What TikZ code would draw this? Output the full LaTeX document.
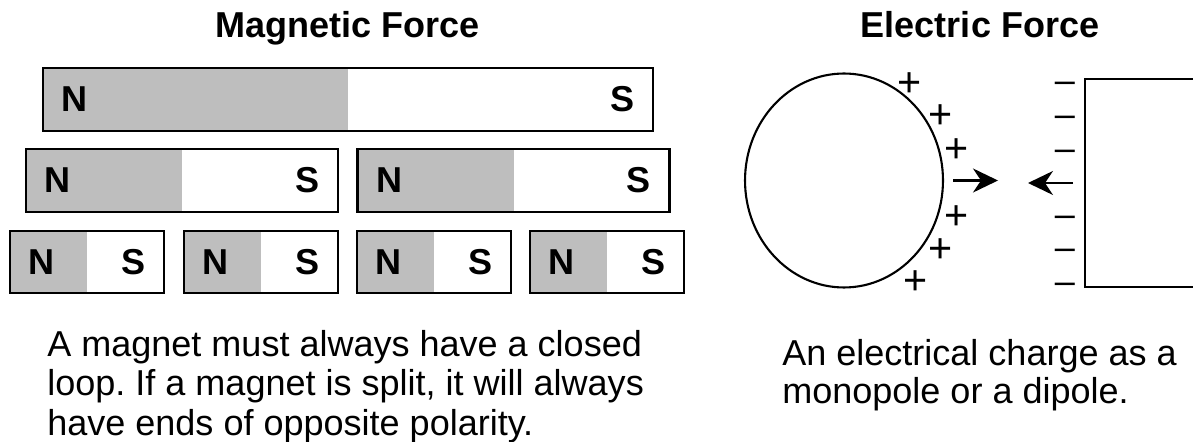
\documentclass[tikz,border=0pt]{standalone}
\usepackage{fontspec}
\setmainfont{Liberation Sans}
\usepackage{xcolor}
\usepackage{tikz}
\usetikzlibrary{arrows.meta,positioning,shapes.geometric}

\definecolor{poleshade}{RGB}{190,190,190}
\frenchspacing

\begin{document}
\begin{tikzpicture}[
  x=0.02cm, y=-0.02cm,
  magnet/.style={draw, line width=1.3pt, inner sep=0pt, minimum height=1.26cm,
                 path picture={\fill[poleshade] (path picture bounding box.south west)
                               rectangle (path picture bounding box.north);}},
  pole/.style={font=\bfseries\fontsize{20.5}{24}\selectfont, inner sep=0pt},
  heading/.style={font=\bfseries\fontsize{20.5}{24}\selectfont, inner sep=0pt, anchor=base},
  caption/.style={font=\fontsize{20.5}{22.8}\selectfont, align=left, inner sep=0pt,
                  anchor=north west},
  charge/.style={font=\fontsize{23.5}{26}\selectfont, inner sep=0pt, text depth=0pt},
  force/.style={-{Stealth[length=0.5cm, width=0.48cm, inset=0.16cm]}, line width=1.3pt}
]
\useasboundingbox (0,0) rectangle (1193,442);
\clip (0,0) rectangle (1193,442);

% magnetic side
\node[heading] (magtitle) at (347.5,38) {Magnetic Force};

\node[magnet, minimum width=12.2cm] (whole) at (348,99.5) {};
\node[pole] (wholen) at ([xshift=0.66cm]whole.west) {N};
\node[pole] (wholes) at ([xshift=-0.64cm]whole.east) {S};

\node[magnet, minimum width=6.24cm] (halfa) at (182,180.5) {};
\node[magnet, minimum width=6.24cm] (halfb) at (513.5,180.5) {};
\node[pole] (halfan) at ([xshift=0.66cm]halfa.west) {N};
\node[pole] (halfas) at ([xshift=-0.64cm]halfa.east) {S};
\node[pole] (halfbn) at ([xshift=0.66cm]halfb.west) {N};
\node[pole] (halfbs) at ([xshift=-0.64cm]halfb.east) {S};

\foreach \cx [count=\k] in {87,261,434,607} {
  \node[magnet, minimum width=3.08cm, minimum height=1.24cm] (quart\k) at (\cx,262) {};
  \node[pole] (quartn\k) at ([xshift=0.66cm]quart\k.west) {N};
  \node[pole] (quarts\k) at ([xshift=-0.64cm]quart\k.east) {S};
}

\node[caption, font=\fontsize{20.5}{22.4}\selectfont] (magtext) at (47,330)
  {A magnet must always have a closed\\loop. If a magnet is split, it will always\\have ends of opposite polarity.};

% electric side
\node[heading] (eltitle) at (980,38) {Electric Force};

\node[draw, ellipse, line width=1.2pt, inner sep=0pt, minimum width=3.96cm,
      minimum height=4.28cm] (sphere) at (844,180.5) {};
\node[draw, line width=1.3pt, inner sep=0pt, minimum width=4cm, minimum height=4.16cm,
      anchor=west] (plate) at (1084,183) {};

\foreach \px/\py [count=\k] in {910/82, 941/114, 957/148, 957/215, 941/248, 916/280}
  \node[charge, text height=16.6pt] (plus\k) at (\px,\py) {+};
\foreach \my [count=\k] in {83,117,151,217,250,284}
  \node[charge, font=\fontsize{20.5}{24}\selectfont, text height=10.5pt] (minus\k)
    at (1065,\my) {\textendash};

\coordinate (pushtip) at (998,180.5);
\coordinate (pulltip) at (1028,183);
\draw[force] ([xshift=0.18cm]sphere.east) -- (pushtip);
\draw[force] ([xshift=-0.22cm]plate.west) -- (pulltip);

\node[caption, font=\fontsize{20.5}{21.6}\selectfont] (eltext) at (782,339.5)
  {An electrical charge as a\\monopole or a dipole.};
\end{tikzpicture}
\end{document}
